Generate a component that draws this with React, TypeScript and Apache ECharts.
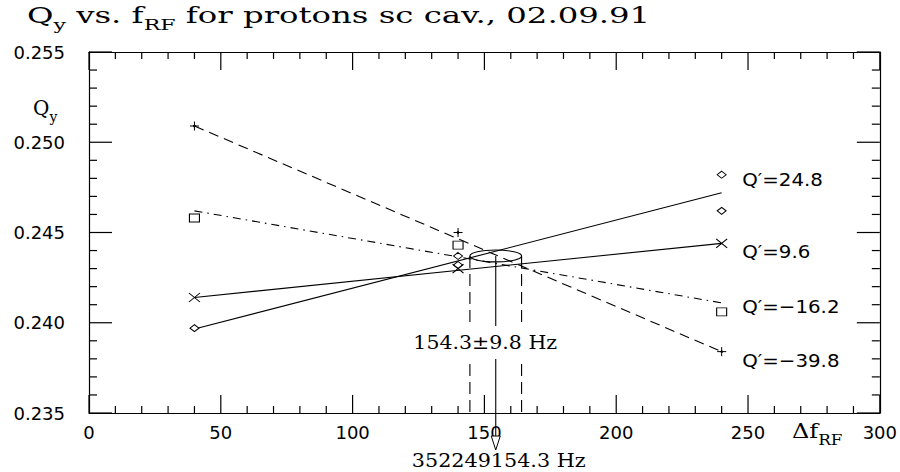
import React, { useEffect, useRef } from 'react';
import * as echarts from 'echarts';

// measured tune values
const fRF = [40, 140, 240];
const qDiamond = [0.2397, 0.2437, 0.2482];
const fDiamondRepeat = [140, 240];
const qDiamondRepeat = [0.2432, 0.2462];
const qCross = [0.2414, 0.2430, 0.2444];
const qSquare = [0.2458, 0.2443, 0.2406];
const qStar = [0.2509, 0.2450, 0.2384];

// straight-line fits
const fitF = [40, 240];
const fitDiamond = [0.23965, 0.2472];
const fitCross = [0.2414, 0.2444];
const fitSquare = [0.2462, 0.2411];
const fitStar = [0.2509, 0.2384];

// chromaticity labels
const seriesLabels = ['Q′=24.8', 'Q′=9.6', 'Q′=−16.2', 'Q′=−39.8'];
const seriesLabelQ = [0.24796, 0.24398, 0.24093, 0.23794];
const seriesLabelF = 247.8;

// result
const fCenter = 154.3;
const fError = 9.8;
const qCenter = 0.2437;
const qHalf = 0.00033;
const resultLabel = '154.3±9.8 Hz';
const absoluteLabel = '352249154.3 Hz';

// axes and tick marks
const xRange = { min: 0, max: 300, interval: 50 };
const yRange = { min: 0.235, max: 0.255, interval: 0.005 };
const xMajorTicks = [0, 50, 100, 150, 200, 250, 300];
const xMinorTicks = [10, 20, 30, 40, 60, 70, 80, 90, 110, 120, 130, 140, 160, 170, 180, 190, 210, 220, 230, 240, 260, 270, 280, 290];
const yMajorTicks = [0.235, 0.24, 0.245, 0.25, 0.255];
const yMinorTicks = [0.236, 0.237, 0.238, 0.239, 0.241, 0.242, 0.243, 0.244, 0.246, 0.247, 0.248, 0.249, 0.251, 0.252, 0.253, 0.254];

const SERIF = '"DejaVu Serif", serif';
const SANS = '"DejaVu Sans", sans-serif';

const pts = (xs: number[], ys: number[]) => xs.map((x, i) => [x, ys[i]]);

const markerStyle = { color: '#fff', borderColor: '#000', borderWidth: 1, opacity: 1 };

export default function App() {
  const ref = useRef<HTMLDivElement>(null);
  useEffect(() => {
    if (!ref.current) return;
    const chart = echarts.init(ref.current, undefined, { renderer: 'svg' });

    const xAxis = (pos: 'bottom' | 'top', labels: boolean) => ({
      type: 'value',
      position: pos,
      min: xRange.min,
      max: xRange.max,
      interval: xRange.interval,
      axisLine: { show: true, onZero: false, lineStyle: { color: '#000', width: 1.2 } },
      axisTick: { show: false },
      minorTick: { show: false },
      splitLine: { show: false },
      axisLabel: { show: labels, margin: 10, color: '#000', fontFamily: SANS, fontSize: 18 },
    });
    const yAxis = (pos: 'left' | 'right', labels: boolean) => ({
      type: 'value',
      position: pos,
      min: yRange.min,
      max: yRange.max,
      interval: yRange.interval,
      axisLine: { show: true, onZero: false, lineStyle: { color: '#000', width: 1.2 } },
      axisTick: { show: false },
      minorTick: { show: false },
      splitLine: { show: false },
      axisLabel: {
        show: labels,
        margin: 24,
        color: '#000',
        fontFamily: SANS,
        fontSize: 18,
        formatter: (v: number) => v.toFixed(3),
      },
    });

    const fitLine = (data: number[], type: any) => ({
      type: 'line',
      data: pts(fitF, data),
      showSymbol: false,
      symbol: 'none',
      silent: true,
      lineStyle: { color: '#000', width: 1.1, type },
      z: 2,
    });

    const scatter = (data: number[][], symbol: string, size: number[]) => ({
      type: 'scatter',
      data,
      symbol,
      symbolSize: size,
      itemStyle: markerStyle,
      z: 4,
    });

    const option: any = {
      animation: false,
      backgroundColor: '#fff',
      grid: { left: 89, right: 17, top: 52, bottom: 59 },
      xAxis: [xAxis('bottom', true), xAxis('top', false)],
      yAxis: [yAxis('left', true), yAxis('right', false)],
      graphic: [
        {
          type: 'text',
          x: 27,
          y: 4,
          scaleX: 1.47,
          style: {
            text: '{m|Q}{s|y}{m| vs. f}{s|RF}{m| for protons sc cav., 02.09.91}',
            fill: '#000',
            rich: {
              m: { fontFamily: SERIF, fontSize: 22, lineHeight: 26, verticalAlign: 'top', fill: '#000' },
              s: { fontFamily: SERIF, fontSize: 15, lineHeight: 42, fill: '#000' },
            },
          },
        },
        {
          type: 'text',
          x: 33,
          y: 98,
          style: {
            text: '{m|Q}{s|y}',
            fill: '#000',
            rich: {
              m: { fontFamily: SERIF, fontSize: 20, lineHeight: 24, verticalAlign: 'top', fill: '#000' },
              s: { fontFamily: SERIF, fontSize: 14, lineHeight: 38, fill: '#000' },
            },
          },
        },
        {
          type: 'text',
          x: 792,
          y: 421,
          scaleX: 1.2,
          style: {
            text: '{m|Δf}{s|RF}',
            fill: '#000',
            rich: {
              m: { fontFamily: SERIF, fontSize: 20, lineHeight: 24, verticalAlign: 'top', fill: '#000' },
              s: { fontFamily: SERIF, fontSize: 14, lineHeight: 38, fill: '#000' },
            },
          },
        },
      ],
      series: [
        fitLine(fitDiamond, 'solid'),
        fitLine(fitCross, 'solid'),
        fitLine(fitSquare, [8, 5, 1.5, 5]),
        fitLine(fitStar, [10, 6]),
        scatter([...pts(fRF, qDiamond), ...pts(fDiamondRepeat, qDiamondRepeat)], 'path://M0,-1L1,0L0,1L-1,0Z', [9, 7]),
        scatter(pts(fRF, qCross), 'path://M-1,-1L1,1M1,-1L-1,1', [11, 9]),
        scatter(pts(fRF, qSquare), 'path://M-1,-1L1,-1L1,1L-1,1Z', [10, 8]),
        scatter(pts(fRF, qStar), 'path://M0,-1L0,1M-1,0L1,0M0,-0.3L0.3,0L0,0.3L-0.3,0Z', [9, 9]),
        {
          type: 'custom',
          clip: false,
          silent: true,
          z: 5,
          data: [[fCenter, qCenter, fError, qHalf]],
          renderItem: (params: any, api: any) => {
            const f = api.value(0);
            const q = api.value(1);
            const df = api.value(2);
            const dq = api.value(3);
            const c = api.coord([f, q]);
            const l = api.coord([f - df, q]);
            const r = api.coord([f + df, q]);
            const t = api.coord([f, q + dq]);
            const cs = params.coordSys;
            const bottom = cs.y + cs.height;
            const lbl = api.coord([f - 4, 0.2389]);
            const lineStyle = { stroke: '#000', lineWidth: 1.1, fill: 'none' };
            const dashStyle = { stroke: '#000', lineWidth: 1.1, lineDash: [12, 6], fill: 'none' };
            return {
              type: 'group',
              children: [
                { type: 'line', shape: { x1: l[0], y1: l[1], x2: l[0], y2: bottom }, style: dashStyle },
                { type: 'line', shape: { x1: r[0], y1: r[1], x2: r[0], y2: bottom }, style: dashStyle },
                { type: 'line', shape: { x1: c[0], y1: c[1], x2: c[0], y2: bottom + 23 }, style: lineStyle },
                {
                  type: 'ellipse',
                  shape: { cx: c[0], cy: c[1], rx: r[0] - c[0], ry: c[1] - t[1] },
                  style: lineStyle,
                },
                {
                  type: 'polygon',
                  shape: { points: [[c[0] - 4.5, bottom + 23], [c[0] + 4.5, bottom + 23], [c[0], bottom + 37]] },
                  style: { stroke: '#000', lineWidth: 1, fill: '#fff' },
                },
                {
                  type: 'text',
                  x: lbl[0],
                  y: lbl[1],
                  scaleX: 1.08,
                  style: {
                    text: resultLabel,
                    fontFamily: SERIF,
                    fontSize: 19,
                    fill: '#000',
                    align: 'center',
                    verticalAlign: 'middle',
                    backgroundColor: '#fff',
                    padding: [7, 3],
                  },
                },
                {
                  type: 'text',
                  x: c[0] + 3,
                  y: bottom + 48,
                  scaleX: 1.09,
                  style: {
                    text: absoluteLabel,
                    fontFamily: SERIF,
                    fontSize: 19,
                    fill: '#000',
                    align: 'center',
                    verticalAlign: 'middle',
                  },
                },
              ],
            };
          },
        },
        {
          type: 'custom',
          clip: false,
          silent: true,
          z: 5,
          data: seriesLabelQ.map((q, i) => [seriesLabelF, q, i]),
          renderItem: (params: any, api: any) => {
            const p = api.coord([api.value(0), api.value(1)]);
            return {
              type: 'text',
              x: p[0],
              y: p[1],
              scaleX: 1.1,
              style: {
                text: seriesLabels[api.value(2)],
                fontFamily: SANS,
                fontSize: 18,
                fill: '#000',
                align: 'left',
                verticalAlign: 'middle',
              },
            };
          },
        },
        {
          type: 'custom',
          clip: false,
          silent: true,
          z: 20,
          data: [[xRange.min, yRange.min]],
          renderItem: (params: any, api: any) => {
            const cs = params.coordSys;
            const b = cs.y + cs.height;
            const t = cs.y;
            const l = cs.x;
            const r = cs.x + cs.width;
            const children: any[] = [];
            const st = { fill: '#000', stroke: 'none' };
            const xt = [...xMajorTicks.map((v) => [v, 18]), ...xMinorTicks.map((v) => [v, 7])];
            xt.forEach(([v, len]) => {
              const px = api.coord([v, yRange.min])[0];
              children.push({ type: 'rect', shape: { x: px - 0.6, y: b - len, width: 1.2, height: len }, style: st });
              children.push({ type: 'rect', shape: { x: px - 0.6, y: t, width: 1.2, height: len }, style: st });
            });
            const yt = [...yMajorTicks.map((v) => [v, 23]), ...yMinorTicks.map((v) => [v, 8])];
            yt.forEach(([v, len]) => {
              const py = api.coord([xRange.min, v])[1];
              children.push({ type: 'rect', shape: { x: l, y: py - 0.6, width: len, height: 1.2 }, style: st });
              children.push({ type: 'rect', shape: { x: r - len, y: py - 0.6, width: len, height: 1.2 }, style: st });
            });
            return { type: 'group', children };
          },
        },
      ],
    };
    chart.setOption(option);
    return () => chart.dispose();
  }, []);
  return (
    <div
      ref={ref}
      style={{ position: 'fixed', left: 0, top: 0, width: 900, height: 472, background: '#fff' }}
    />
  );
}
